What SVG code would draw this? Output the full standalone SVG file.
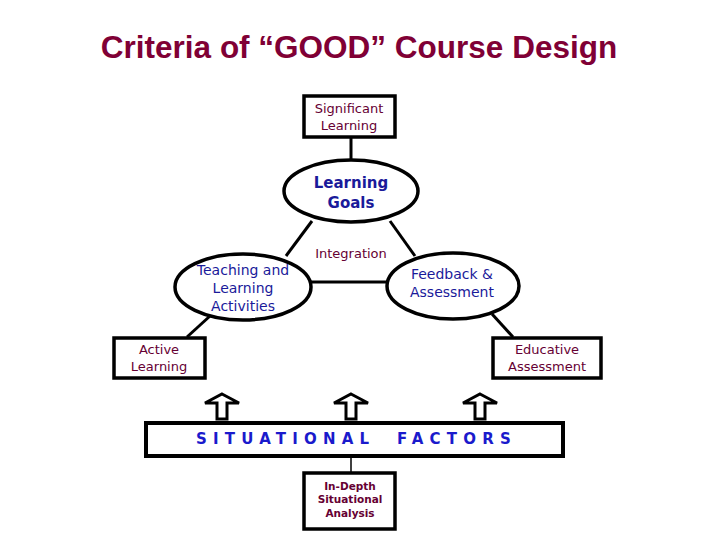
<svg xmlns="http://www.w3.org/2000/svg" width="720" height="540" viewBox="0 0 720 540">
<style>
.box{fill:#fff;stroke:#000;stroke-width:3.5}
.ell{fill:#fff;stroke:#000;stroke-width:3.5}
.ln{stroke:#000;stroke-width:3;fill:none}
.arr{fill:#fff;stroke:#000;stroke-width:3;stroke-linejoin:miter}
.m{font-family:"DejaVu Sans",Verdana,sans-serif;fill:#660033;text-anchor:middle}
.b{font-family:"DejaVu Sans",Verdana,sans-serif;fill:#1a1a9a;text-anchor:middle}
</style>
<rect width="720" height="540" fill="#fff"/>
<text x="359" y="58" font-family="'Liberation Sans',Arial,sans-serif" font-size="31.5" font-weight="bold" fill="#800035" text-anchor="middle">Criteria of “GOOD” Course Design</text>
<g id="connectors">
<line class="ln" x1="351" y1="137" x2="351" y2="161"/>
<line class="ln" x1="312" y1="221" x2="286" y2="256"/>
<line class="ln" x1="390" y1="221" x2="415" y2="256"/>
<line class="ln" x1="311" y1="282" x2="388" y2="282"/>
<line class="ln" x1="187" y1="337" x2="210" y2="316"/>
<line class="ln" x1="513" y1="337" x2="492" y2="314"/>
<line x1="351" y1="457" x2="351" y2="472" stroke="#000" stroke-width="1.5"/>
<path class="arr" d="M222,394 L239,403 L227,403 L227,419 L217,419 L217,403 L205,403 Z"/>
<path class="arr" d="M351,394 L368,403 L356,403 L356,419 L346,419 L346,403 L334,403 Z"/>
<path class="arr" d="M480,394 L497,403 L485,403 L485,419 L475,419 L475,403 L463,403 Z"/>
</g>
<g id="significant">
<rect class="box" x="304" y="96" width="91" height="41"/>
<text class="m" font-size="13" x="349" y="113">Significant</text>
<text class="m" font-size="13" x="349" y="130">Learning</text>
</g>
<g id="goals">
<ellipse class="ell" cx="351" cy="191" rx="67" ry="31"/>
<text class="b" font-size="15" font-weight="bold" x="351" y="188">Learning</text>
<text class="b" font-size="15" font-weight="bold" x="351" y="208">Goals</text>
</g>
<g id="integration">
<text class="m" font-size="13" x="351" y="258">Integration</text>
</g>
<g id="teaching">
<ellipse class="ell" cx="243" cy="287" rx="68" ry="33"/>
<text class="b" font-size="14" x="243" y="275">Teaching and</text>
<text class="b" font-size="14" x="243" y="293">Learning</text>
<text class="b" font-size="14" x="243" y="311">Activities</text>
</g>
<g id="feedback">
<ellipse class="ell" cx="453" cy="286" rx="66" ry="33"/>
<text class="b" font-size="14" x="452" y="279">Feedback &amp;</text>
<text class="b" font-size="14" x="452" y="297">Assessment</text>
</g>
<g id="active">
<rect class="box" x="114" y="338" width="91" height="40"/>
<text class="m" font-size="13" x="159" y="354">Active</text>
<text class="m" font-size="13" x="159" y="371">Learning</text>
</g>
<g id="educative">
<rect class="box" x="493" y="338" width="108" height="40"/>
<text class="m" font-size="13" x="547" y="354">Educative</text>
<text class="m" font-size="13" x="547" y="371">Assessment</text>
</g>
<g id="situational">
<rect x="146" y="423" width="417" height="33" fill="#fff" stroke="#000" stroke-width="4"/>
<text font-family="'DejaVu Sans',Verdana,sans-serif" font-size="15" font-weight="bold" fill="#1a1acc" letter-spacing="6.2"><tspan x="196" y="444">SITUATIONAL</tspan><tspan x="397" y="444">FACTORS</tspan></text>
</g>
<g id="indepth">
<rect class="box" x="304" y="473" width="91" height="56"/>
<text class="m" font-size="10.5" font-weight="bold" x="350" y="490">In-Depth</text>
<text class="m" font-size="10.5" font-weight="bold" x="350" y="503">Situational</text>
<text class="m" font-size="10.5" font-weight="bold" x="350" y="517">Analysis</text>
</g>
</svg>
